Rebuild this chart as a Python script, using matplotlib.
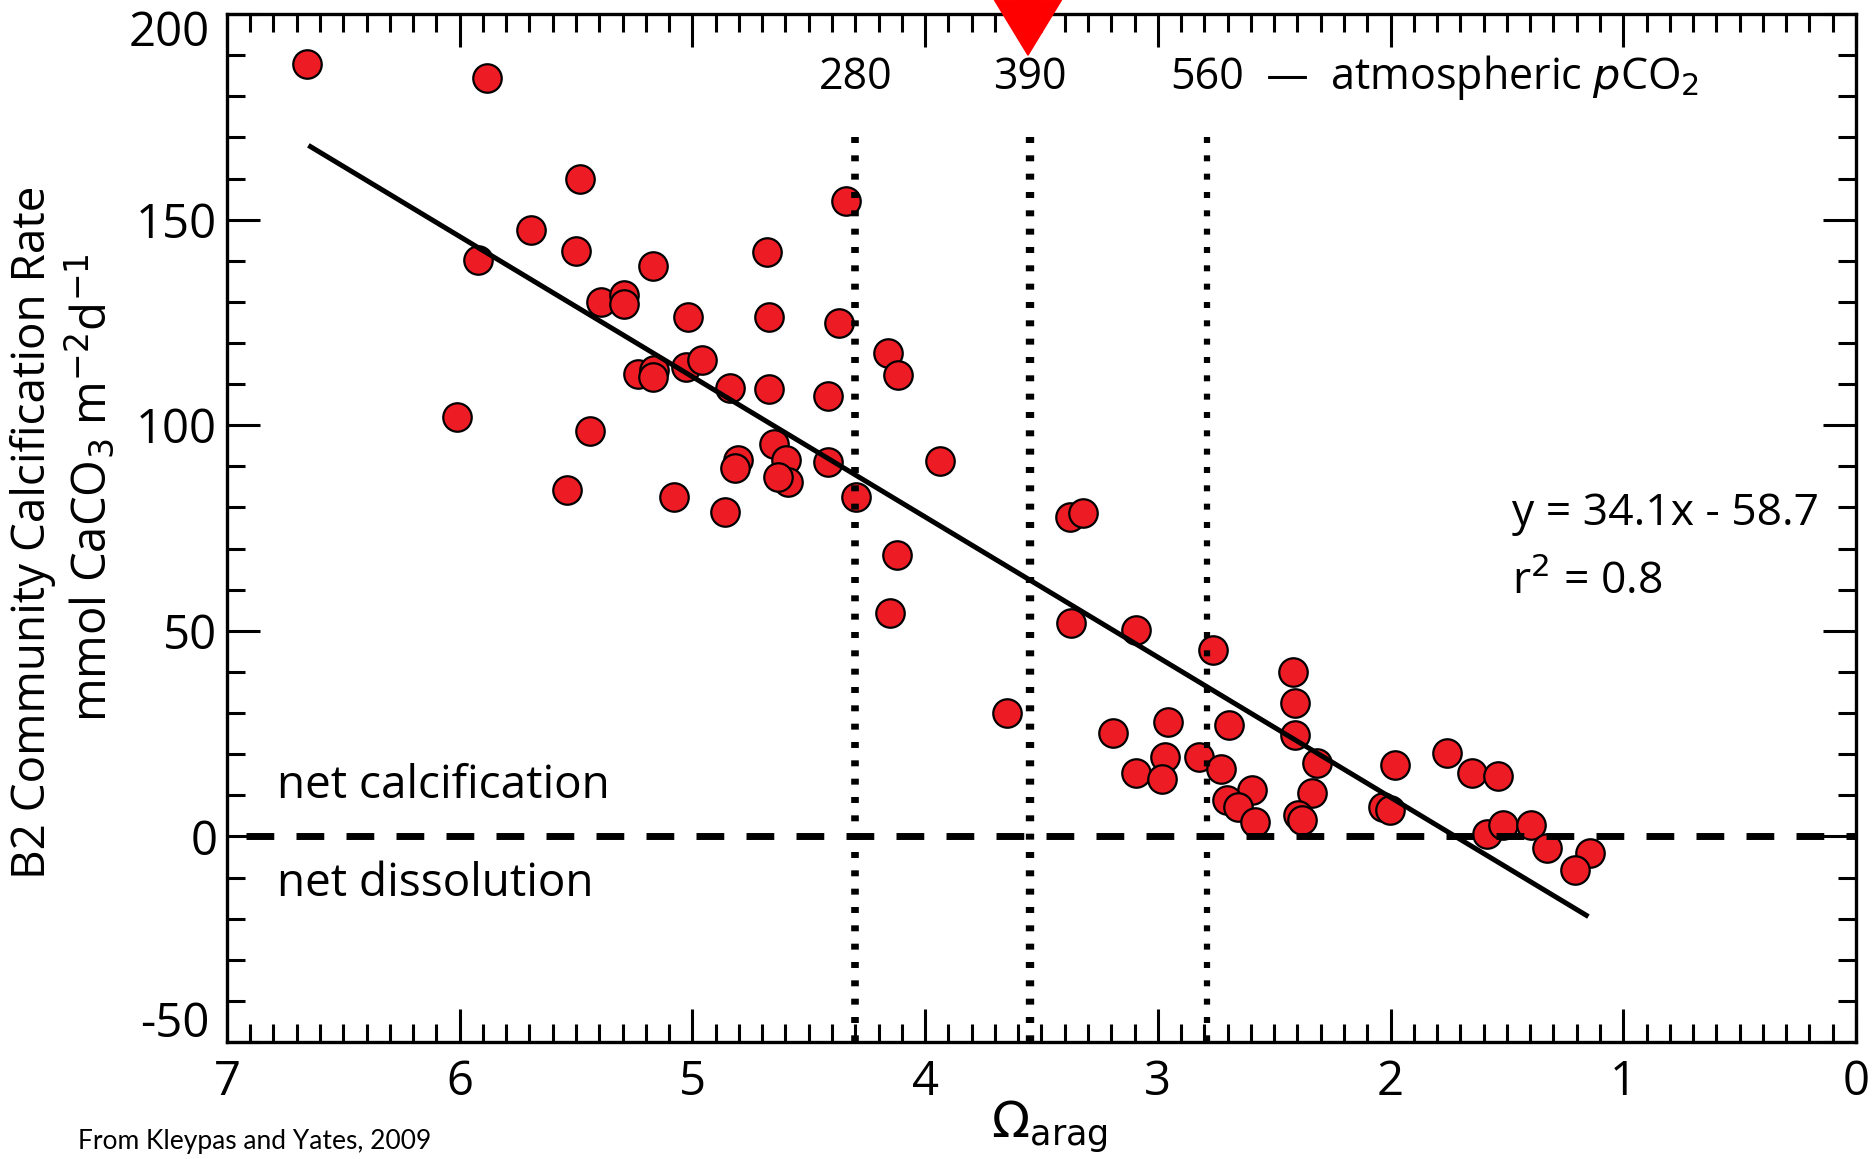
import matplotlib
matplotlib.use("Agg")
import numpy as np
import matplotlib.pyplot as plt
from matplotlib.ticker import MultipleLocator, FuncFormatter

# data (Kleypas & Yates 2009, Biosphere 2)
omega = [6.655, 5.884, 5.483, 5.694, 5.500, 5.923, 5.171, 5.393, 5.293, 5.293,
         5.020, 5.232, 5.164, 5.168, 5.027, 4.960, 4.838, 6.013, 5.440,
         4.340, 4.678, 4.670, 4.369, 4.158, 4.115, 4.670, 4.419, 4.649, 4.803,
         4.817, 4.598, 4.588, 4.631, 4.419, 3.936, 5.540, 5.079, 4.859, 4.297,
         4.119, 4.150,
         3.377, 3.320, 3.374, 3.094, 2.761, 2.420, 2.410, 2.410, 2.317, 2.339,
         2.396, 2.382, 1.981, 2.031, 2.002, 3.647, 3.194, 2.955, 2.969, 3.094,
         2.981, 2.822, 2.693, 2.730, 2.597, 2.704, 2.654, 2.582,
         1.759, 1.651, 1.537, 1.587, 1.518, 1.396, 1.329, 1.142, 1.207]
calc = [187.8, 184.4, 159.8, 147.5, 142.4, 140.3, 138.7, 130.0, 131.7, 129.6,
        126.4, 112.4, 113.4, 111.8, 114.1, 115.9, 109.0, 102.1, 98.5,
        154.6, 142.2, 126.4, 124.9, 117.6, 112.2, 108.7, 107.1, 95.4, 91.5,
        89.5, 91.5, 86.3, 87.5, 91.1, 91.4, 84.2, 82.6, 79.0, 82.6,
        68.5, 54.4,
        77.7, 78.7, 52.0, 50.2, 45.3, 40.1, 32.5, 24.7, 17.8, 10.5,
        5.2, 4.0, 17.4, 7.2, 6.4, 29.9, 25.2, 27.9, 19.2, 15.5,
        13.9, 19.2, 27.1, 16.3, 11.3, 8.9, 7.2, 3.6,
        20.2, 15.5, 14.7, 0.6, 2.8, 2.8, -2.7, -4.0, -8.2]

slope, intercept = 34.1, -58.7
fit_range = [6.65, 1.15]
pco2_levels = ["280", "390", "560"]
pco2_omega = [4.30, 3.55, 2.79]
today_omega = 3.558

plt.rcParams["lines.scale_dashes"] = False
plt.rcParams["axes.unicode_minus"] = False
plt.rcParams["font.family"] = ["Open Sans", "DejaVu Sans"]

fig = plt.figure(figsize=(18.74, 11.59), dpi=100)
ax = fig.add_axes([0.1211, 0.1009, 0.8693, 0.8870])

ax.scatter(omega, calc, s=420, color="#ED1C24", edgecolors="black",
           linewidths=1.6, zorder=2)

fx = np.array(fit_range)
ax.plot(fx, slope * fx + intercept, color="black", lw=3.6,
        solid_capstyle="butt", zorder=3)

ax.plot([6.92, 0], [0, 0], color="black", lw=5, dashes=[20, 16],
        dash_capstyle="butt", zorder=3)

widths = [5.5, 6.0, 4.5]
for xv, w in zip(pco2_omega, widths):
    ax.plot([xv, xv], [170, -50], color="black", lw=w, dashes=[4.3, 8.9],
            dash_capstyle="butt", zorder=3)

for lab, xv in zip(pco2_levels, pco2_omega):
    ax.text(xv, 184.5, lab, ha="center", va="center", fontsize=31)
ax.text(2.54, 184.5, "\u2014  atmospheric $\\it{p}$CO$_2$", ha="left",
        va="center", fontsize=31)

# red arrow marking today's pCO2 (runs off the top of the figure)
tri = plt.Polygon([[today_omega - 0.144, 203.4], [today_omega + 0.144, 203.4],
                   [today_omega, 190.0]],
                  closed=True, color="#FF0000", clip_on=False, zorder=5)
ax.add_patch(tri)
shaft = plt.Rectangle((today_omega - 0.05, 203.0), 0.1, 6, color="#FF0000",
                      clip_on=False, zorder=5)
ax.add_patch(shaft)

ax.text(1.48, 78.4, "y = 34.1x - 58.7", ha="left", va="center", fontsize=32)
ax.text(1.48, 61.6, "r$^2$ = 0.8", ha="left", va="center", fontsize=32)

ax.text(6.785, 12.3, "net calcification", ha="left", va="center", fontsize=33)
ax.text(6.785, -11.6, "net dissolution", ha="left", va="center", fontsize=33)

ax.set_xlim(7, 0)
ax.set_ylim(-50, 200)
ax.xaxis.set_major_locator(MultipleLocator(1))
ax.xaxis.set_minor_locator(MultipleLocator(0.1))
ax.yaxis.set_major_locator(MultipleLocator(50))
ax.yaxis.set_minor_locator(MultipleLocator(10))


# end labels of the y axis sit inside the frame, drawn separately below
def ylab(v, pos):
    if v >= 200 or v <= -50:
        return ""
    return "%d" % v


ax.yaxis.set_major_formatter(FuncFormatter(ylab))
ax.tick_params(which="both", direction="in", top=True, right=True, width=2.2)
ax.tick_params(which="major", length=24, labelsize=34)
ax.tick_params(axis="y", which="major", pad=7)
ax.tick_params(axis="x", which="major", pad=12)
ax.tick_params(which="minor", length=13)
for sp in ax.spines.values():
    sp.set_linewidth(2.4)

ytr = ax.get_yaxis_transform()
ax.text(-0.0105, 195.4, "200", transform=ytr, ha="right", va="center",
        fontsize=34)
ax.text(-0.0105, -45.6, "-50", transform=ytr, ha="right", va="center",
        fontsize=34)

fig.text(0.0176, 0.541, "B2 Community Calcification Rate", rotation=90,
         ha="center", va="center", fontsize=33)
fig.text(0.048, 0.579, "mmol CaCO$_3$ m$^{-2}$d$^{-1}$", rotation=90,
         ha="center", va="center", fontsize=34)
fig.text(0.560, 0.028, "$\\Omega_{\\mathrm{arag}}$", ha="center", va="center",
         fontsize=36)
fig.text(0.0416, 0.0155, "From Kleypas and Yates, 2009", ha="left",
         va="center", fontsize=19, family=["Lato", "DejaVu Sans"])

fig.savefig("out.png", dpi=100)
